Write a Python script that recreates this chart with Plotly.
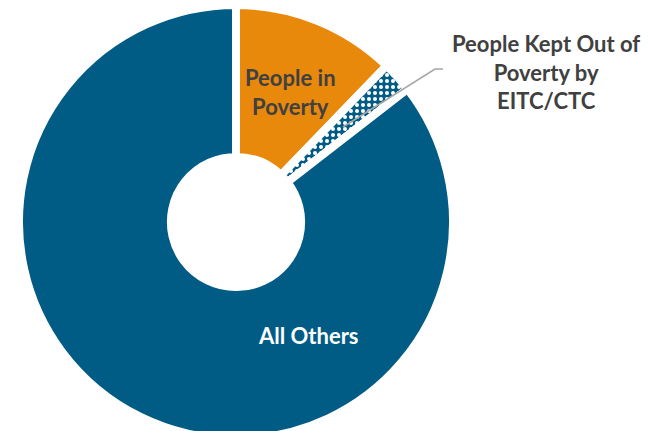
import plotly.graph_objects as go

# Share of people by poverty status (percent)
categories = ["People in Poverty", "People Kept Out of Poverty by EITC/CTC", "All Others"]
shares = [12.2, 2.3, 85.5]
slice_colors = ["#E8890C", "#005B85", "#005B85"]

W, H = 649, 439


def px(x):
    return x / W


def py(y):
    return 1 - y / H


fig = go.Figure(
    go.Pie(
        labels=categories,
        values=shares,
        sort=False,
        direction="clockwise",
        rotation=0,
        hole=0.30,
        textinfo="none",
        hoverinfo="label+percent",
        marker=dict(
            colors=slice_colors,
            line=dict(color="white", width=8),
            pattern=dict(
                shape=["", ".", ""],
                fgcolor="white",
                bgcolor="#005B85",
                size=6,
                solidity=0.35,
                fillmode="replace",
            ),
        ),
        domain=dict(x=[px(19), px(453)], y=[0, py(5)]),
        showlegend=False,
    )
)

label_font = dict(family="Lato, 'Open Sans', sans-serif", size=22)

fig.add_annotation(
    x=px(290), y=py(92), xref="paper", yref="paper",
    xanchor="center", yanchor="middle",
    text="<b>People in<br>Poverty</b>", showarrow=False,
    font=dict(color="#404040", **label_font), align="center",
)
fig.add_annotation(
    x=px(308), y=py(335), xref="paper", yref="paper",
    xanchor="center", yanchor="middle",
    text="<b>All Others</b>", showarrow=False,
    font=dict(color="white", **label_font), align="center",
)
fig.add_annotation(
    x=px(546), y=py(72), xref="paper", yref="paper",
    xanchor="center", yanchor="middle",
    text="<b>People Kept Out of<br>Poverty by<br>EITC/CTC</b>", showarrow=False,
    font=dict(color="#404040", **label_font), align="center",
)

# leader line from the small slice to its label
fig.add_shape(
    type="path", xref="paper", yref="paper",
    path=f"M {px(343)} {py(127)} L {px(435)} {py(69)} L {px(443)} {py(69)}",
    line=dict(color="#A6A6A6", width=1.5),
)

fig.update_layout(
    width=W, height=H,
    margin=dict(l=0, r=0, t=0, b=0),
    paper_bgcolor="white",
    plot_bgcolor="white",
)

fig.write_html("out.html", post_script="document.body.style.overflow='hidden';")
